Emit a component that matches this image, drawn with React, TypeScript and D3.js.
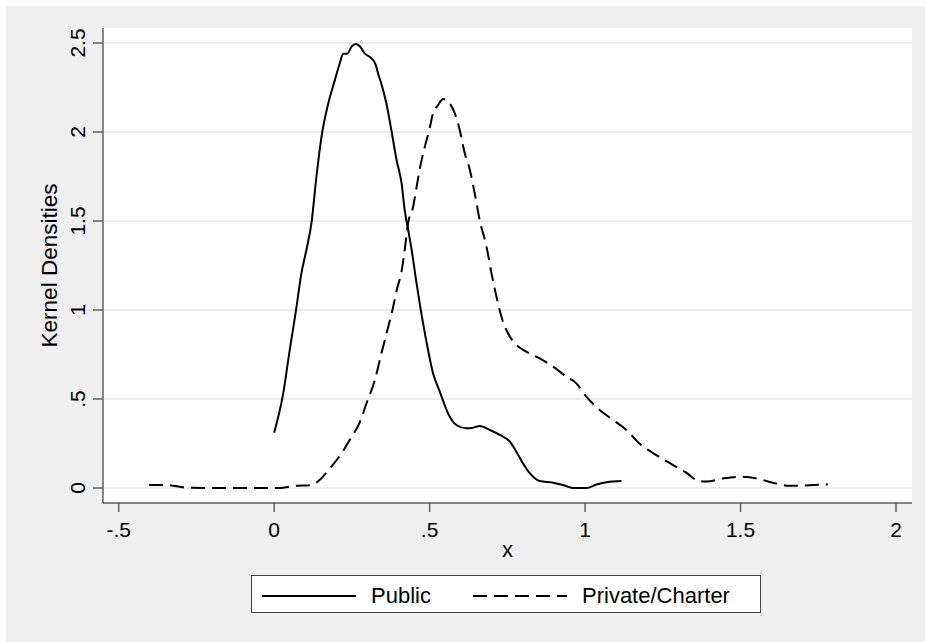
import { useEffect, useRef } from 'react';
import * as d3 from 'd3';

// kernel density estimates, [x, density]
const publicDensity: [number, number][] = [
  [0, 0.31], [0.029, 0.53], [0.05, 0.775], [0.07, 0.995], [0.088, 1.21], [0.104, 1.34],
  [0.12, 1.49], [0.136, 1.75], [0.152, 1.97], [0.174, 2.16], [0.195, 2.29], [0.211, 2.386],
  [0.222, 2.44], [0.235, 2.44], [0.249, 2.48], [0.263, 2.494], [0.276, 2.48], [0.292, 2.44],
  [0.313, 2.414], [0.327, 2.376], [0.334, 2.33], [0.345, 2.27], [0.361, 2.16], [0.377, 2.01],
  [0.394, 1.84], [0.41, 1.71], [0.42, 1.56], [0.431, 1.45], [0.442, 1.34], [0.458, 1.15],
  [0.479, 0.925], [0.495, 0.775], [0.511, 0.644], [0.533, 0.54], [0.559, 0.42], [0.586, 0.354],
  [0.619, 0.335], [0.64, 0.339], [0.661, 0.348], [0.694, 0.326], [0.726, 0.298], [0.758, 0.26],
  [0.779, 0.204], [0.8, 0.139], [0.822, 0.083], [0.854, 0.039], [0.897, 0.03], [0.929, 0.017],
  [0.961, 0.0], [1.004, 0.0], [1.037, 0.02], [1.069, 0.032], [1.117, 0.039],
];

const privateDensity: [number, number][] = [
  [-0.402, 0.017], [-0.346, 0.017], [-0.282, 0.002], [-0.2, 0], [-0.1, 0], [0.018, 0],
  [0.061, 0.011], [0.12, 0.017], [0.142, 0.039], [0.179, 0.11], [0.211, 0.18], [0.243, 0.27],
  [0.276, 0.372], [0.297, 0.476], [0.324, 0.607], [0.345, 0.757], [0.367, 0.906], [0.383, 1.02],
  [0.394, 1.11], [0.41, 1.22], [0.42, 1.34], [0.431, 1.49], [0.447, 1.58], [0.458, 1.69],
  [0.468, 1.79], [0.485, 1.92], [0.5, 2.02], [0.511, 2.105], [0.527, 2.15], [0.543, 2.185],
  [0.559, 2.17], [0.581, 2.105], [0.597, 2.01], [0.613, 1.88], [0.629, 1.79], [0.645, 1.655],
  [0.661, 1.505], [0.683, 1.356], [0.699, 1.206], [0.715, 1.075], [0.731, 0.962], [0.752, 0.869],
  [0.774, 0.813], [0.811, 0.766], [0.854, 0.728], [0.897, 0.682], [0.94, 0.625], [0.972, 0.588],
  [1.004, 0.513], [1.047, 0.438], [1.09, 0.382], [1.133, 0.326], [1.176, 0.248], [1.229, 0.185],
  [1.283, 0.129], [1.331, 0.079], [1.358, 0.045], [1.39, 0.036], [1.444, 0.054], [1.497, 0.063],
  [1.551, 0.054], [1.604, 0.03], [1.658, 0.013], [1.722, 0.015], [1.781, 0.021],
];

const xTicks = [-0.5, 0, 0.5, 1, 1.5, 2];
const xTickLabels = ['-.5', '0', '.5', '1', '1.5', '2'];
const yTicks = [0, 0.5, 1, 1.5, 2, 2.5];
const yTickLabels = ['0', '.5', '1', '1.5', '2', '2.5'];
const seriesNames = ['Public', 'Private/Charter'];

const W = 925;
const H = 642;
const FONT = '"Liberation Sans", Arial, sans-serif';

export default function App() {
  const svgRef = useRef<SVGSVGElement | null>(null);

  useEffect(() => {
    const svg = d3.select(svgRef.current);
    svg.selectAll('*').remove();

    // plot region
    const pl = 103, pr = 912, pt = 28, pb = 503;
    const x = d3.scaleLinear().domain([-0.5, 2]).range([118.7, 896]);
    const y = d3.scaleLinear().domain([0, 2.5]).range([488, 43]);

    // graph region background
    svg.append('rect').attr('width', W).attr('height', H).attr('fill', '#ffffff');
    svg.append('rect').attr('x', 6).attr('y', 6).attr('width', W - 6).attr('height', H - 6).attr('fill', '#efefef');
    svg.append('rect').attr('x', pl).attr('y', pt).attr('width', pr - pl).attr('height', pb - pt).attr('fill', '#ffffff');

    // gridlines
    svg.append('g').selectAll('line').data(yTicks).join('line')
      .attr('x1', pl).attr('x2', pr)
      .attr('y1', d => y(d)).attr('y2', d => y(d))
      .attr('stroke', '#e4e4e4').attr('stroke-width', 1.5);

    // axes
    const axisCol = '#606060';
    svg.append('line').attr('x1', pl).attr('x2', pl).attr('y1', pt).attr('y2', pb)
      .attr('stroke', axisCol).attr('stroke-width', 1.5);
    svg.append('line').attr('x1', pl).attr('x2', pr).attr('y1', pb).attr('y2', pb)
      .attr('stroke', axisCol).attr('stroke-width', 1.5);

    // y ticks + labels (rotated)
    const yg = svg.append('g');
    yg.selectAll('line').data(yTicks).join('line')
      .attr('x1', pl - 10).attr('x2', pl)
      .attr('y1', d => y(d)).attr('y2', d => y(d))
      .attr('stroke', axisCol).attr('stroke-width', 1.5);
    yg.selectAll('text').data(yTicks).join('text')
      .attr('transform', d => `translate(85,${y(d)}) rotate(-90)`)
      .attr('text-anchor', 'middle')
      .attr('font-family', FONT).attr('font-size', 21).attr('fill', '#000')
      .text((_, i) => yTickLabels[i]);

    // x ticks + labels
    const xg = svg.append('g');
    xg.selectAll('line').data(xTicks).join('line')
      .attr('x1', d => x(d)).attr('x2', d => x(d))
      .attr('y1', pb).attr('y2', pb + 9)
      .attr('stroke', axisCol).attr('stroke-width', 1.5);
    xg.selectAll('text').data(xTicks).join('text')
      .attr('x', d => x(d)).attr('y', 537)
      .attr('text-anchor', 'middle')
      .attr('font-family', FONT).attr('font-size', 21).attr('fill', '#000')
      .text((_, i) => xTickLabels[i]);

    // axis titles
    svg.append('text')
      .attr('x', (pl + pr) / 2).attr('y', 557)
      .attr('text-anchor', 'middle')
      .attr('font-family', FONT).attr('font-size', 22).attr('fill', '#000')
      .text('x');
    svg.append('text')
      .attr('transform', `translate(57,${(pt + pb) / 2}) rotate(-90)`)
      .attr('text-anchor', 'middle')
      .attr('font-family', FONT).attr('font-size', 22.5).attr('fill', '#000')
      .text('Kernel Densities');

    // density lines
    const line = d3.line<[number, number]>()
      .x(d => x(d[0])).y(d => y(d[1]))
      .curve(d3.curveMonotoneX);

    const dashes = ['none', '14,7'];
    [publicDensity, privateDensity].forEach((data, i) => {
      svg.append('path')
        .attr('d', line(data))
        .attr('fill', 'none')
        .attr('stroke', '#000')
        .attr('stroke-width', 2)
        .attr('stroke-dasharray', dashes[i])
        .attr('stroke-linejoin', 'round');
    });

    // legend
    const lg = svg.append('g');
    lg.append('rect')
      .attr('x', 251.5).attr('y', 575.5).attr('width', 509).attr('height', 37)
      .attr('fill', '#ffffff').attr('stroke', '#404040').attr('stroke-width', 1);
    const keyX = [262, 473];
    seriesNames.forEach((name, i) => {
      lg.append('line')
        .attr('x1', keyX[i]).attr('x2', keyX[i] + 94)
        .attr('y1', 596).attr('y2', 596)
        .attr('stroke', '#000').attr('stroke-width', 2)
        .attr('stroke-dasharray', dashes[i]);
      lg.append('text')
        .attr('x', keyX[i] + 109).attr('y', 603)
        .attr('font-family', FONT).attr('font-size', 22).attr('fill', '#000')
        .text(name);
    });
  }, []);

  return (
    <svg
      ref={svgRef}
      width={W}
      height={H}
      style={{ position: 'absolute', left: 0, top: 0, display: 'block' }}
    />
  );
}
